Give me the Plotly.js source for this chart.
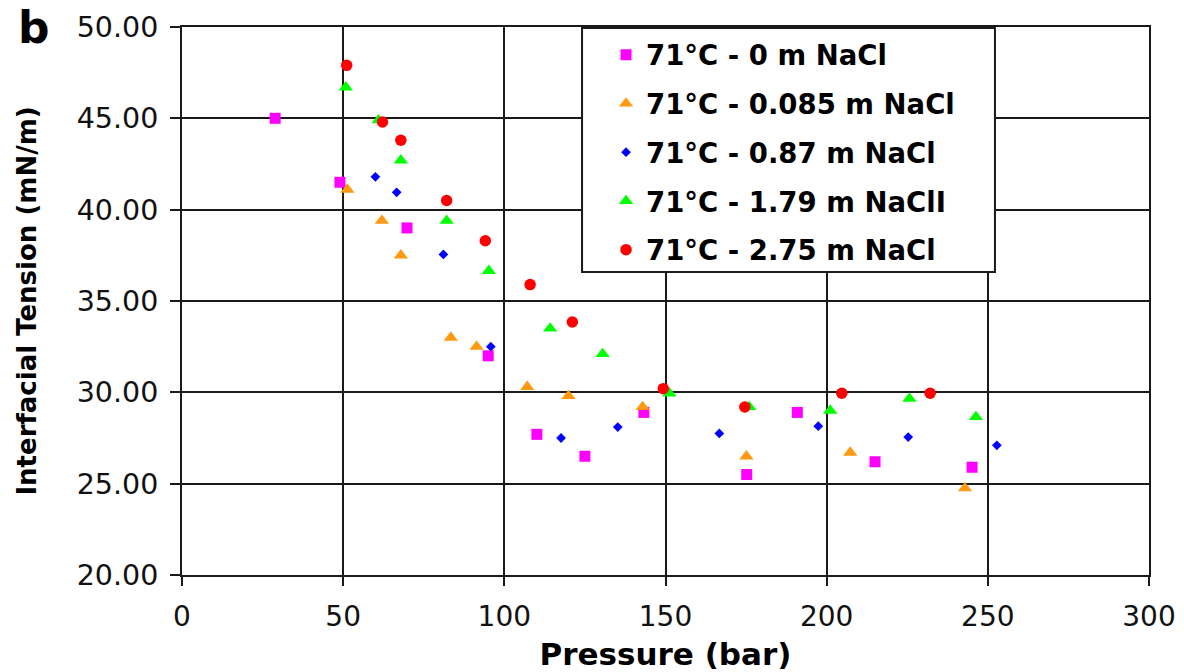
<!DOCTYPE html>
<html>
<head>
<meta charset="utf-8">
<script src="https://cdn.plot.ly/plotly-3.0.1.min.js"></script>
<style>html,body{margin:0;padding:0;background:#fff;}#chart{width:1184px;height:672px;}</style>
</head>
<body>
<div id="chart"></div>
<script>
// Series names
const seriesNames = ["71°C - 0 m NaCl", "71°C - 0.085 m NaCl", "71°C - 0.87 m NaCl", "71°C - 1.79 m NaClI", "71°C - 2.75 m NaCl"];

// 71°C - 0 m NaCl
const p0 = [28.9, 49.0, 69.8, 95.0, 110.1, 125.0, 143.3, 175.2, 190.9, 215.0, 245.1];
const ift0 = [45.0, 41.5, 39.0, 32.0, 27.7, 26.5, 28.9, 25.5, 28.9, 26.2, 25.9];

// 71°C - 0.085 m NaCl
const p1 = [51.3, 62.0, 67.9, 83.4, 91.4, 107.1, 119.9, 142.9, 175.1, 207.3, 242.9];
const ift1 = [41.1, 39.4, 37.5, 33.0, 32.5, 30.3, 29.8, 29.2, 26.5, 26.7, 24.75];

// 71°C - 0.87 m NaCl
const p2 = [60.0, 66.6, 81.1, 95.8, 117.6, 135.2, 166.7, 197.4, 225.3, 252.8];
const ift2 = [41.8, 40.95, 37.55, 32.5, 27.5, 28.1, 27.75, 28.15, 27.55, 27.1];

// 71°C - 1.79 m NaCl
const p3 = [50.8, 61.0, 67.9, 82.1, 95.2, 114.2, 130.5, 151.2, 176.0, 201.1, 225.7, 246.3];
const ift3 = [46.7, 44.9, 42.7, 39.4, 36.65, 33.5, 32.1, 29.95, 29.2, 29.0, 29.65, 28.65];

// 71°C - 2.75 m NaCl
const p4 = [51.1, 62.2, 67.9, 82.1, 94.1, 108.0, 121.1, 149.3, 174.6, 204.7, 232.1];
const ift4 = [47.9, 44.8, 43.8, 40.5, 38.3, 35.9, 33.85, 30.2, 29.2, 29.95, 29.95];

// Axis ticks
const xTicks = [0, 50, 100, 150, 200, 250, 300];
const yTicks = [20, 25, 30, 35, 40, 45, 50];

const styles = [
  {symbol: "square", color: "#FF00FF", size: 11},
  {symbol: "triangle-up", color: "#FF9912", size: 12.5},
  {symbol: "diamond", color: "#0000FF", size: 7.5},
  {symbol: "triangle-up", color: "#00FF00", size: 12.5},
  {symbol: "circle", color: "#FF0000", size: 11.5}
];
const xs = [p0, p1, p2, p3, p4];
const ys = [ift0, ift1, ift2, ift3, ift4];

const traces = seriesNames.map((n, i) => ({
  type: "scatter", mode: "markers", name: n, x: xs[i], y: ys[i],
  legendgroup: "g" + i,
  marker: {symbol: styles[i].symbol, color: styles[i].color, size: styles[i].size, line: {width: 0}}
}));

const FONT = "DejaVu Sans, Arial, sans-serif";
const LINE = "#1a1a1a";
const layout = {
  width: 1184, height: 672,
  margin: {l: 182, r: 35, t: 27, b: 97},
  paper_bgcolor: "#fff", plot_bgcolor: "#fff",
  showlegend: true,
  font: {family: FONT, color: "#000", size: 28},
  xaxis: {
    range: [0, 300], tickvals: xTicks, ticktext: xTicks.map(String),
    showgrid: true, gridcolor: LINE, gridwidth: 2,
    showline: true, linecolor: LINE, linewidth: 2, mirror: true,
    ticks: "outside", ticklen: 9, tickcolor: LINE, tickwidth: 2,
    ticklabelstandoff: 6,
    tickfont: {family: FONT, size: 28, color: "#111"},
    zeroline: false,
    title: {text: "<b>Pressure (bar)</b>", font: {family: FONT, size: 31, color: "#000"}, standoff: 20}
  },
  yaxis: {
    range: [20, 50], tickvals: yTicks, ticktext: yTicks.map(v => v.toFixed(2)),
    showgrid: true, gridcolor: LINE, gridwidth: 2,
    showline: true, linecolor: LINE, linewidth: 2, mirror: true,
    ticks: "outside", ticklen: 10, tickcolor: LINE, tickwidth: 2,
    ticklabelstandoff: 6,
    tickfont: {family: FONT, size: 28.5, color: "#111"},
    zeroline: false,
    title: {text: "<b>Interfacial Tension (mN/m)</b>", font: {family: FONT, size: 26, color: "#000"}, standoff: 33}
  },
  legend: {
    x: 0.4385, y: 0.994, xanchor: "left", yanchor: "top",
    bgcolor: "rgba(0,0,0,0)", borderwidth: 0,
    font: {family: FONT, size: 27.5, color: "#000", weight: "bold"},
    itemwidth: 30,
    tracegroupgap: 10
  },
  shapes: [{
    type: "rect", xref: "paper", yref: "paper", layer: "above",
    x0: 0.4137, x1: 0.8407, y0: 0.5529, y1: 0.9982,
    fillcolor: "#fff", line: {color: LINE, width: 2}
  }],
  annotations: [{
    text: "<b>b</b>", xref: "paper", yref: "paper", x: -0.172, y: 1.05,
    xanchor: "left", yanchor: "top", showarrow: false,
    font: {family: FONT, size: 44, color: "#000"}
  }]
};

Plotly.newPlot("chart", traces, layout, {displayModeBar: false, staticPlot: true});
</script>
</body>
</html>
